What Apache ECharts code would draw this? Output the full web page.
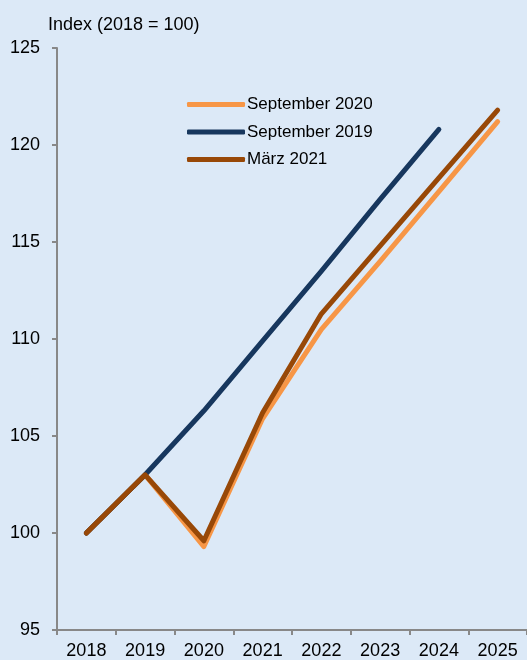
<!DOCTYPE html>
<html><head><meta charset="utf-8">
<script src="https://cdn.jsdelivr.net/npm/echarts@6/dist/echarts.min.js"></script>
<style>html,body{margin:0;padding:0;background:#dce9f7;}#c{width:527px;height:660px;}</style>
</head><body><div id="c"></div>
<script>
const categories = ['2018','2019','2020','2021','2022','2023','2024','2025'];
const sep2020 = [100, 103, 99.3, 105.9, 110.5, 114.0, 117.6, 121.2];
const sep2019 = [100, 103, 106.3, 109.9, 113.5, 117.2, 120.8, null];
const maerz2021 = [100, 103, 99.6, 106.2, 111.3, 114.8, 118.3, 121.8];
const yTicks = [95, 100, 105, 110, 115, 120, 125];

const chart = echarts.init(document.getElementById('c'));
const font = 'Liberation Sans, Arial, sans-serif';
function line(name, data, color, z){
  return {name, type:'line', data, z, symbol:'none', showSymbol:false,
    lineStyle:{color, width:5, cap:'round', join:'round'}, itemStyle:{color}};
}
chart.setOption({
  backgroundColor:'#dce9f7',
  animation:false,
  title:{text:'Index (2018 = 100)', left:43, top:11, textStyle:{fontFamily:font, fontSize:18, fontWeight:'normal', color:'#000'}},
  legend:{orient:'vertical', left:182, top:91, itemWidth:58, itemHeight:5, itemGap:10.5, icon:'roundRect',
    textStyle:{fontFamily:font, fontSize:17, color:'#000', padding:[0,0,0,-3]},
    data:['September 2020','September 2019','März 2021']},
  grid:{left:57, top:48, width:472, bottom:30, containLabel:false},
  xAxis:{type:'category', data:categories, boundaryGap:true,
    axisLine:{lineStyle:{color:'#888', width:2}},
    axisTick:{show:true, length:5, lineStyle:{color:'#888', width:2}},
    axisLabel:{fontFamily:font, fontSize:18, color:'#000', margin:12}},
  yAxis:{type:'value', min:95, max:125, interval:5,
    axisLine:{show:true, lineStyle:{color:'#888', width:2}},
    axisTick:{show:true, length:5, lineStyle:{color:'#888', width:2}},
    splitLine:{show:false},
    axisLabel:{fontFamily:font, fontSize:18, color:'#000', margin:17,
      formatter:v=> yTicks.includes(v) ? String(v) : ''}},
  series:[
    line('September 2020', sep2020, '#f79646', 2),
    line('September 2019', sep2019, '#17375e', 3),
    line('März 2021', maerz2021, '#984807', 4)
  ]
});
</script></body></html>
